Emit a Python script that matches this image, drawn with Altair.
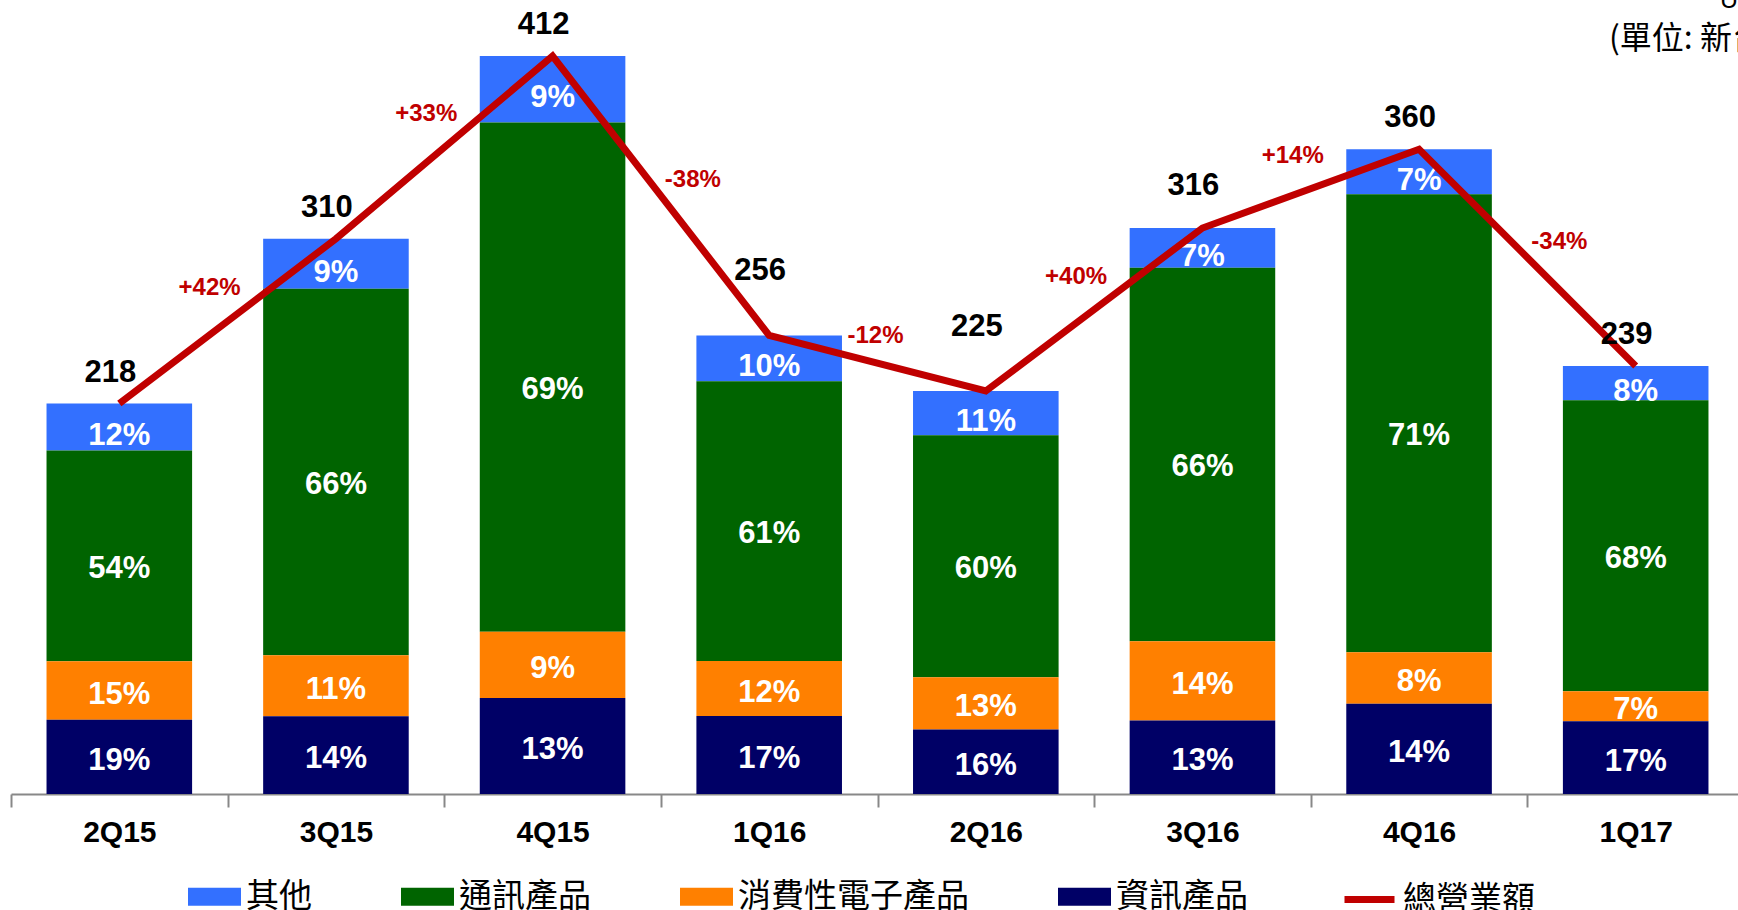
import altair as alt
import pandas as pd

quarters = ["2Q15", "3Q15", "4Q15", "1Q16", "2Q16", "3Q16", "4Q16", "1Q17"]
totals = [218, 310, 412, 256, 225, 316, 360, 239]
pct_info = [19, 14, 13, 17, 16, 13, 14, 17]        # 資訊產品
pct_consumer = [15, 11, 9, 12, 13, 14, 8, 7]       # 消費性電子產品
pct_comm = [54, 66, 69, 61, 60, 66, 71, 68]        # 通訊產品
pct_other = [12, 9, 9, 10, 11, 7, 7, 8]            # 其他
growth_labels = ["+42%", "+33%", "-38%", "-12%", "+40%", "+14%", "-34%"]
series = ["其他", "通訊產品", "消費性電子產品", "資訊產品"]
colors = ["#3370FF", "#006400", "#FF8000", "#000066"]
line_name = "總營業額"
line_color = "#C00000"

stack_order = {"資訊產品": 0, "消費性電子產品": 1, "通訊產品": 2, "其他": 3}
pcts = {"資訊產品": pct_info, "消費性電子產品": pct_consumer, "通訊產品": pct_comm, "其他": pct_other}

rows = []
for i, q in enumerate(quarters):
    for s in series:
        rows.append({"quarter": q, "series": s, "pct": pcts[s][i], "ord": stack_order[s], "total": totals[i]})
seg = pd.DataFrame(rows)

tot = pd.DataFrame({"quarter": quarters, "total": totals, "name": line_name})

g_rows = []
for i, lab in enumerate(growth_labels):
    g_rows.append({"quarter": quarters[i + 1], "label": lab,
                   "mid": (totals[i] + totals[i + 1]) / 2, "pos": lab.startswith("+")})
gr = pd.DataFrame(g_rows)

unit = pd.DataFrame({"t1": ["Unit: NT$ 100 million"], "t2": ["(單位: 新台幣億元)"]})

STEP = 1733 / 8
xscale = alt.Scale(domain=quarters, range=[0, 1733], paddingInner=0.328)
yscale = alt.Scale(domain=[0, 443.3])

X = alt.X("quarter:N", sort=quarters, scale=xscale,
          axis=alt.Axis(title=None, labelAngle=0, labelFont="Liberation Sans", labelFontSize=30,
                        labelFontWeight="bold", labelColor="black", labelPadding=10,
                        tickSize=13, tickColor="#888888", tickWidth=2,
                        domainColor="#888888", domainWidth=2,
                        tickOffset=-STEP / 2, labelOffset=STEP / 2, grid=False))
XP = alt.X("quarter:N", sort=quarters, scale=xscale)

rect_path = "M-1,-0.34H1V0.34H-1Z"

bars = alt.Chart(seg).transform_calculate(
    value="datum.total * datum.pct / 100"
).mark_bar().encode(
    x=X,
    y=alt.Y("value:Q", stack=True, scale=yscale, axis=None),
    color=alt.Color("series:N", scale=alt.Scale(domain=series, range=colors),
                    legend=alt.Legend(title=None, orient="none", legendX=177, legendY=870,
                                      direction="horizontal", columnPadding=89,
                                      symbolType=rect_path, symbolSize=2809, symbolStrokeWidth=0,
                                      symbolOpacity=1, labelFont="Noto Sans CJK TC",
                                      labelFontSize=33, labelColor="black", labelOffset=5,
                                      labelLimit=0, padding=0)),
    order=alt.Order("ord:Q", sort="ascending"),
)


def pct_layer(filt, dy):
    return alt.Chart(seg).transform_calculate(
        value="datum.total * datum.pct / 100"
    ).transform_stack(
        stack="value", groupby=["quarter"], sort=[alt.SortField("ord", "ascending")], as_=["y0", "y1"]
    ).transform_filter(filt).transform_calculate(
        mid="(datum.y0 + datum.y1) / 2", label="datum.pct + '%'"
    ).mark_text(color="white", font="Liberation Sans", fontSize=31, fontWeight="bold",
                baseline="middle", dy=dy).encode(
        x=XP, y=alt.Y("mid:Q", scale=yscale), text="label:N")


pct_green = pct_layer("datum.series == '通訊產品'", 13)
pct_blue = pct_layer("datum.series == '其他'", 9)
pct_rest = pct_layer("datum.series == '資訊產品' || datum.series == '消費性電子產品'", 4)

line = alt.Chart(tot).mark_line(strokeWidth=7).encode(
    x=XP,
    y=alt.Y("total:Q", scale=yscale),
    color=alt.Color("name:N", scale=alt.Scale(domain=[line_name], range=[line_color]),
                    legend=alt.Legend(title=None, orient="none", legendX=1330, legendY=871,
                                      symbolType="stroke", symbolSize=2500, symbolStrokeWidth=7,
                                      labelFont="Noto Sans CJK TC", labelFontSize=33,
                                      labelColor="black", labelOffset=5, labelLimit=0, padding=0)),
)


def tot_layer(filt, dy):
    return alt.Chart(tot).transform_filter(filt).mark_text(
        color="black", font="Liberation Sans", fontSize=31, fontWeight="bold",
        baseline="alphabetic", dy=dy, dx=-9).encode(
        x=XP, y=alt.Y("total:Q", scale=yscale), text="total:Q")


tot_a = tot_layer("datum.quarter != '1Q16' && datum.quarter != '2Q16' && datum.quarter != '3Q16'", -22)
tot_b = tot_layer("datum.quarter == '1Q16' || datum.quarter == '2Q16'", -55)
tot_c = tot_layer("datum.quarter == '3Q16'", -33)

gx = alt.X("quarter:N", sort=quarters, scale=xscale, bandPosition=0)
half_gap = 0.328 * STEP / 2

g_pos = alt.Chart(gr).transform_filter("datum.pos").mark_text(
    color=line_color, font="Liberation Sans", fontSize=24, fontWeight="bold",
    baseline="middle", dx=-half_gap - 18, dy=-33).encode(
    x=gx, y=alt.Y("mid:Q", scale=yscale), text="label:N")

g_neg = alt.Chart(gr).transform_filter("!datum.pos && datum.label != '-12%'").mark_text(
    color=line_color, font="Liberation Sans", fontSize=24, fontWeight="bold",
    baseline="middle", dx=-half_gap + 32, dy=-16).encode(
    x=gx, y=alt.Y("mid:Q", scale=yscale), text="label:N")

g_neg2 = alt.Chart(gr).transform_filter("datum.label == '-12%'").mark_text(
    color=line_color, font="Liberation Sans", fontSize=24, fontWeight="bold",
    baseline="middle", dx=-half_gap - 2, dy=-27).encode(
    x=gx, y=alt.Y("mid:Q", scale=yscale), text="label:N")

unit1 = alt.Chart(unit).mark_text(font="Liberation Sans", fontSize=25, align="left",
                                  baseline="alphabetic", color="black").encode(
    x=alt.value(1709), y=alt.value(8), text="t1:N")
unit2 = alt.Chart(unit).mark_text(font="Noto Sans CJK TC", fontSize=32, align="left",
                                  baseline="middle", color="black").encode(
    x=alt.value(1598), y=alt.value(39), text="t2:N")

chart = alt.layer(bars, pct_green, pct_blue, pct_rest, line, tot_a, tot_b, tot_c,
                  g_pos, g_neg, g_neg2, unit1, unit2).resolve_scale(
    color="independent"
).properties(
    width=1727, height=794,
    autosize=alt.AutoSizeParams(type="none"),
    padding={"left": 11, "top": 0, "right": 0, "bottom": 116},
    background="white",
).configure_view(stroke=None)

chart.save("out.html", embed_options={"renderer": "svg", "actions": False})
